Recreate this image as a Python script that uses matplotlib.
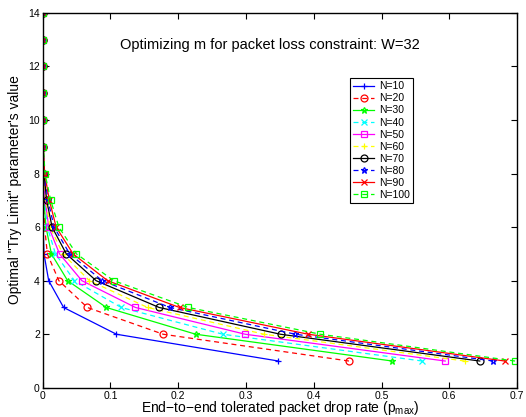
import matplotlib
matplotlib.use("Agg")
import matplotlib.pyplot as plt

# Try Limit values m (y axis)
m_values = [1, 2, 3, 4, 5, 6, 7, 8, 9, 10, 11, 12, 13, 14]

# end-to-end tolerated packet drop rate for each N, indexed by m = 1..14
p_N10 = [0.348, 0.109, 0.031, 0.009, 0.002, 0.0008, 0.0003, 0.0001, 0.0, 0.0, 0.0, 0.0, 0.0, 0.0]
p_N20 = [0.452, 0.178, 0.066, 0.024, 0.007, 0.003, 0.001, 0.0003, 0.0001, 0.0, 0.0, 0.0, 0.0, 0.0]
p_N30 = [0.516, 0.226, 0.094, 0.037, 0.013, 0.005, 0.002, 0.0006, 0.0002, 0.0001, 0.0, 0.0, 0.0, 0.0]
p_N40 = [0.560, 0.266, 0.116, 0.047, 0.019, 0.007, 0.003, 0.001, 0.0003, 0.0001, 0.0, 0.0, 0.0, 0.0]
p_N50 = [0.594, 0.299, 0.137, 0.058, 0.025, 0.009, 0.004, 0.0013, 0.0004, 0.0001, 0.0, 0.0, 0.0, 0.0]
p_N60 = [0.623, 0.327, 0.155, 0.069, 0.030, 0.011, 0.005, 0.0017, 0.0005, 0.0002, 0.0001, 0.0, 0.0, 0.0]
p_N70 = [0.645, 0.351, 0.172, 0.079, 0.035, 0.014, 0.006, 0.002, 0.0007, 0.0002, 0.0001, 0.0, 0.0, 0.0]
p_N80 = [0.665, 0.373, 0.188, 0.088, 0.040, 0.017, 0.008, 0.0025, 0.0008, 0.0003, 0.0001, 0.0, 0.0, 0.0]
p_N90 = [0.682, 0.392, 0.202, 0.096, 0.045, 0.020, 0.010, 0.003, 0.001, 0.0003, 0.0001, 0.0, 0.0, 0.0]
p_N100 = [0.697, 0.410, 0.215, 0.105, 0.050, 0.024, 0.012, 0.0035, 0.0012, 0.0004, 0.0001, 0.0, 0.0, 0.0]

labels = ["N=10", "N=20", "N=30", "N=40", "N=50", "N=60", "N=70", "N=80", "N=90", "N=100"]
series = [p_N10, p_N20, p_N30, p_N40, p_N50, p_N60, p_N70, p_N80, p_N90, p_N100]

# MATLAB-like line specs
colors = ["#0000ff", "#ff0000", "#00ff00", "#00ffff", "#ff00ff",
          "#ffff00", "#000000", "#0000ff", "#ff0000", "#00ff00"]
styles = ["-", "--", "-", "--", "-", "--", "-", "--", "-", "--"]
markers = ["+", "o", "*", "x", "s", "+", "o", "*", "x", "s"]

plt.rcParams['font.family'] = ['Liberation Sans', 'DejaVu Sans']
plt.rcParams['mathtext.fontset'] = 'custom'
plt.rcParams['mathtext.rm'] = 'Liberation Sans'

fig = plt.figure(figsize=(5.26, 4.17), dpi=100)
ax = fig.add_axes([0.081, 0.070, 0.902, 0.899])

for p, lab, c, ls, mk in zip(series, labels, colors, styles, markers):
    ax.plot(p, m_values, color=c, linestyle=ls, marker=mk, markersize=5,
            markerfacecolor='none', markeredgecolor=c, markeredgewidth=0.9,
            linewidth=0.9, label=lab, dashes=(4, 3) if ls == "--" else (None, None))

ax.set_xlim(0, 0.7)
ax.set_ylim(0, 14)
ax.set_xticks([0, 0.1, 0.2, 0.3, 0.4, 0.5, 0.6, 0.7])
ax.set_xticklabels(["0", "0.1", "0.2", "0.3", "0.4", "0.5", "0.6", "0.7"])
ax.set_yticks(range(0, 15, 2))
ax.tick_params(direction='in', top=True, right=True, labelsize=7.5, length=4, width=0.8, pad=2)
for s in ax.spines.values():
    s.set_linewidth(1.0)

ax.set_xlabel("End\u2212to\u2212end tolerated packet drop rate (p$_{\\mathrm{max}}$)", fontsize=10, labelpad=-1)
ax.set_ylabel("Optimal \"Try Limit\" parameter's value", fontsize=10)
ax.yaxis.set_label_coords(-0.043, 0.528)

ax.text(0.335, 12.8, "Optimizing m for packet loss constraint: W=32",
        ha='center', va='center', fontsize=10.5)

leg = ax.legend(loc='upper left', bbox_to_anchor=(0.648, 0.826), fontsize=7.5,
                frameon=True, fancybox=False, edgecolor='black', framealpha=1,
                borderpad=0.3, labelspacing=0.2, handlelength=2.0, handletextpad=0.5,
                borderaxespad=0)
leg.get_frame().set_linewidth(0.8)

fig.savefig("out.png", dpi=100)
